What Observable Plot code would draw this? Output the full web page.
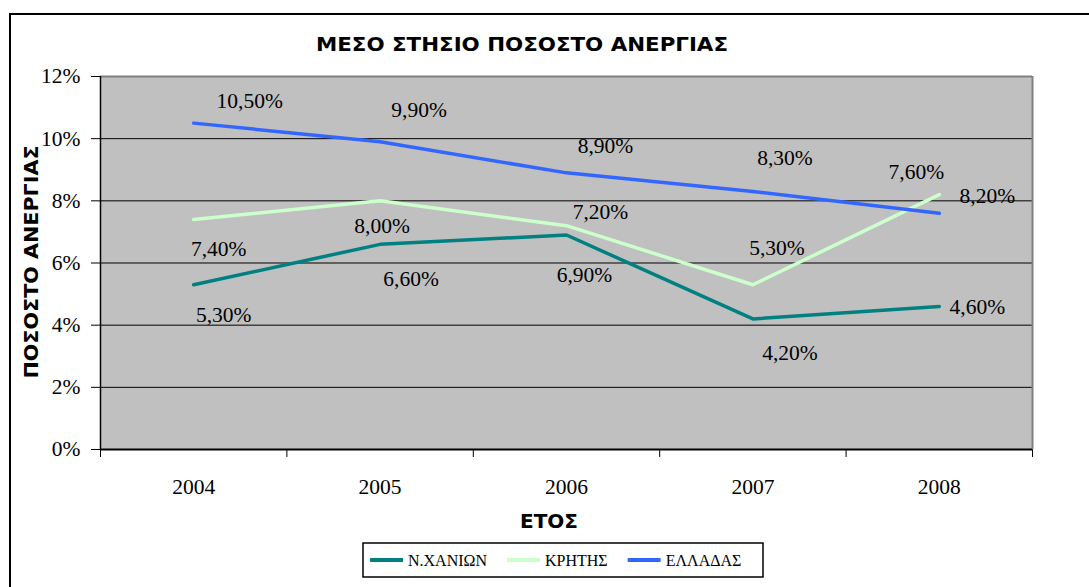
<!DOCTYPE html>
<html><head><meta charset="utf-8">
<script src="https://cdn.jsdelivr.net/npm/d3@7"></script>
<script src="https://cdn.jsdelivr.net/npm/@observablehq/plot@0.6"></script>
<style>
body{margin:0;background:#fff;width:1089px;height:587px;overflow:hidden;position:relative;}
#frame{position:absolute;left:9px;top:13px;width:1200px;height:700px;border:2px solid #000;box-sizing:border-box}
#chart{position:absolute;left:0;top:0}
#over{position:absolute;left:0;top:0}
</style></head><body>
<div id="frame"></div>
<div id="chart"></div>
<svg id="over" width="1089" height="587" xmlns="http://www.w3.org/2000/svg"></svg>
<script>
// ---- data ----
const years = [2004, 2005, 2006, 2007, 2008];
const chania = [5.3, 6.6, 6.9, 4.2, 4.6];
const crete = [7.4, 8.0, 7.2, 5.3, 8.2];
const greece = [10.5, 9.9, 8.9, 8.3, 7.6];
const seriesNames = ["Ν.ΧΑΝΙΩΝ", "ΚΡΗΤΗΣ", "ΕΛΛΑΔΑΣ"];
const yTicks = [0, 2, 4, 6, 8, 10, 12];
const title = "ΜΕΣΟ ΣΤΗΣΙΟ ΠΟΣΟΣΤΟ ΑΝΕΡΓΙΑΣ";
const xTitle = "ΕΤΟΣ";
const yTitle = "ΠΟΣΟΣΤΟ ΑΝΕΡΓΙΑΣ";

// ---- styling / layout ----
const colors = ["#008080", "#CCFFCC", "#3366FF"];
const labelOffsets = [
  [[30, 30], [31, 35], [18, 40], [37, 34], [38, 1]],
  [[25, 30], [2, 25], [34, -14], [24, -37], [48, 1]],
  [[56, -22], [39, -32], [39, -27], [32, -33], [-23, -41]]
];
const serif = "'Liberation Serif', 'Times New Roman', Times, 'DejaVu Serif', serif";
const sansBold = "'DejaVu Sans', Verdana, sans-serif";

const seriesValues = [chania, crete, greece];
const rows = [];
seriesValues.forEach((vals, s) => vals.forEach((v, i) => rows.push({
  year: years[i], value: v, series: seriesNames[s], dx: labelOffsets[s][i][0], dy: labelOffsets[s][i][1]
})));
const fmt = v => v.toFixed(2).replace(".", ",") + "%";
const boundaries = [...years.map(y => y - 0.5), years[years.length - 1] + 0.5];
const gridVals = yTicks.filter(d => d > 0 && d < 12);

const chart = Plot.plot({
  width: 1089, height: 587,
  marginLeft: 100, marginRight: 57, marginTop: 76, marginBottom: 138,
  style: {fontFamily: serif, fontSize: "21.5px", color: "#000", background: "transparent", overflow: "visible"},
  x: {domain: [boundaries[0], boundaries[boundaries.length - 1]], ticks: boundaries, tickFormat: () => "", tickSize: 8, label: null},
  y: {domain: [0, 12], ticks: yTicks, tickFormat: d => d + "%", tickSize: 9, tickPadding: 11, label: null},
  color: {domain: seriesNames, range: colors},
  marks: [
    Plot.frame({fill: "#C0C0C0", stroke: null}),
    Plot.ruleY(gridVals, {stroke: "#000", strokeWidth: 1}),
    Plot.ruleY([yTicks[yTicks.length - 1]], {stroke: "#808080", strokeWidth: 2}),
    Plot.ruleX([boundaries[boundaries.length - 1]], {stroke: "#808080", strokeWidth: 2}),
    Plot.ruleX([boundaries[0]], {stroke: "#000", strokeWidth: 1.5}),
    Plot.ruleY([0], {stroke: "#000", strokeWidth: 2}),
    Plot.line(rows, {x: "year", y: "value", z: "series", stroke: "series", strokeWidth: 3.5}),
    ...rows.map(r => Plot.text([r], {x: "year", y: "value", text: d => fmt(d.value), dx: r.dx, dy: r.dy, fill: "#000", fontFamily: serif})),
    Plot.text(years, {x: d => d, y: () => 0, text: d => String(d), dy: 38, fill: "#000", fontFamily: serif})
  ]
});
document.getElementById("chart").appendChild(chart);

// ---- overlay texts & legend ----
const ns = "http://www.w3.org/2000/svg";
const over = document.getElementById("over");
function mk(tag, attrs, text) {
  const el = document.createElementNS(ns, tag);
  for (const k in attrs) el.setAttribute(k, attrs[k]);
  if (text != null) el.textContent = text;
  over.appendChild(el);
  return el;
}
mk("text", {x: 522, y: 51, "text-anchor": "middle", "font-family": sansBold, "font-weight": "bold", "font-size": 19, textLength: 412, lengthAdjust: "spacingAndGlyphs"}, title);
mk("text", {x: 549, y: 528, "text-anchor": "middle", "font-family": sansBold, "font-weight": "bold", "font-size": 19, textLength: 58, lengthAdjust: "spacingAndGlyphs"}, xTitle);
mk("text", {x: 0, y: 0, transform: "translate(38,262) rotate(-90)", "text-anchor": "middle", "font-family": sansBold, "font-weight": "bold", "font-size": 19, textLength: 233, lengthAdjust: "spacingAndGlyphs"}, yTitle);

mk("rect", {x: 363, y: 543, width: 400, height: 34, fill: "#fff", stroke: "#000", "stroke-width": 1.5});
let lx = 370;
seriesNames.forEach((name, i) => {
  mk("line", {x1: lx, x2: lx + 33, y1: 560, y2: 560, stroke: colors[i], "stroke-width": 4});
  const t = mk("text", {x: lx + 38, y: 566, "font-family": serif, "font-size": 16, fill: "#000"}, name);
  lx = lx + 38 + t.getComputedTextLength() + 20;
});
</script>
</body></html>
